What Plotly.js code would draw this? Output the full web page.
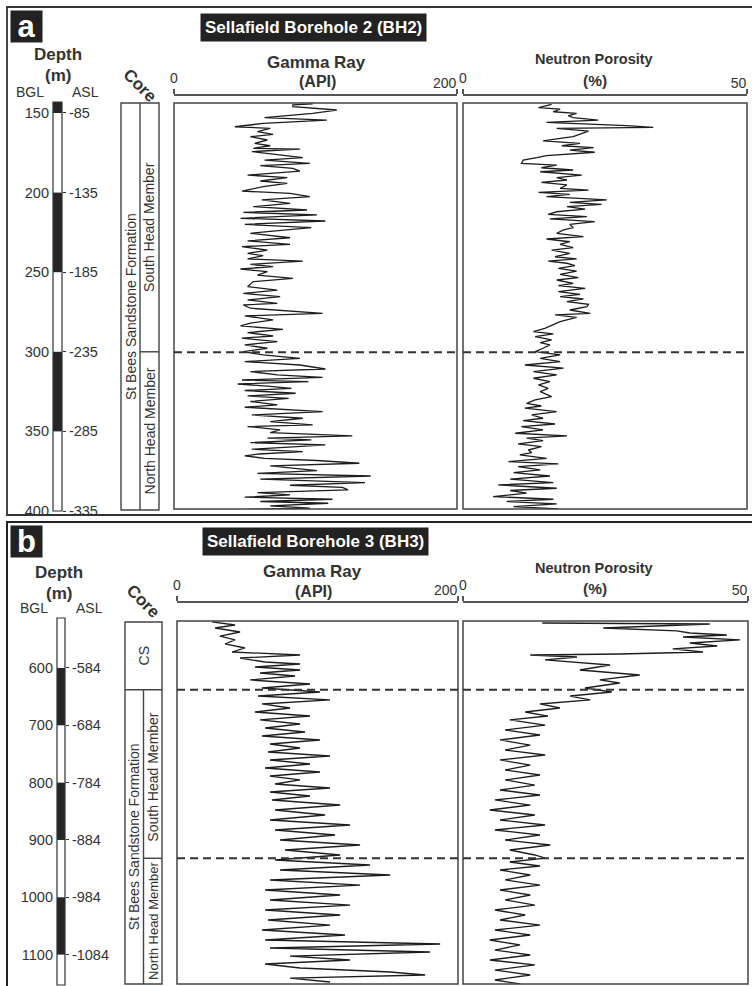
<!DOCTYPE html>
<html><head><meta charset="utf-8">
<script src="https://cdn.plot.ly/plotly-3.0.1.min.js"></script>
<style>html,body{margin:0;padding:0;background:#fff}</style>
</head><body><div id="chart" style="width:752px;height:986px"></div>
<script>
// ---------------- DATA ----------------
// Sellafield Borehole 2 (BH2)
const bh2GammaDepth = [144.2,144.8,146.0,148.1,150.2,152.9,154.4,156.5,158.6,159.6,161.7,163.4,164.8,166.9,169.0,170.5,172.1,172.6,174.2,176.3,178.0,179.5,181.5,183.0,184.7,186.4,188.9,190.5,192.6,194.1,196.2,198.9,200.4,202.4,204.5,206.6,208.7,210.8,212.3,213.9,216.0,217.7,219.8,221.9,224.0,225.4,228.2,230.2,232.3,233.8,235.9,238.0,239.4,241.5,242.8,244.9,246.3,247.8,249.5,251.6,253.7,255.7,258.9,261.0,263.1,265.1,267.2,269.3,
  270.3,272.4,275.6,277.2,279.7,281.8,283.5,285.6,287.7,289.8,291.2,293.3,295.4,297.5,299.6,301.7,303.8,305.9,308.0,310.5,312.1,314.2,315.7,317.4,318.4,319.9,321.5,322.6,324.0,325.7,327.4,328.9,330.9,333.0,334.5,337.2,339.3,341.4,343.5,345.6,346.6,348.7,350.4,352.5,353.9,355.0,356.7,358.1,359.2,360.8,362.3,363.8,365.0,366.5,367.9,369.6,371.3,372.7,374.2,375.9,377.6,379.6,381.7,383.4,384.7,386.3,388.0,389.5,390.9,392.2,393.6,394.7,396.4,397.8,398.5];
const bh2GammaAPI = [98,84,84,115,98,64,108,63,43,68,59,70,54,66,57,68,56,89,55,73,91,64,96,61,84,89,52,80,61,80,63,48,82,96,62,82,56,94,49,101,47,107,50,97,68,54,82,52,82,48,66,52,63,52,91,54,70,47,66,59,84,56,52,73,49,75,52,73,
  49,54,105,50,70,54,47,77,52,70,48,73,50,66,49,63,89,50,89,107,54,73,105,48,95,45,70,83,50,86,52,81,54,73,50,105,55,91,68,98,52,75,68,126,66,97,54,107,87,55,91,60,50,64,101,131,68,84,101,59,139,61,135,82,119,123,59,82,50,112,61,109,68,96,52];
const bh2NeutronDepth = [144.6,146.6,147.5,149.2,150.2,151.7,152.9,154.4,155.8,157.1,157.9,159.0,159.6,161.3,162.7,164.8,165.9,167.5,169.0,170.5,171.7,173.2,174.6,175.9,176.7,178.0,179.5,181.5,182.6,184.3,185.7,186.8,188.9,190.5,192.0,193.5,195.1,197.2,198.3,199.7,201.0,202.4,204.5,206.0,207.3,208.7,210.2,211.9,213.5,215.0,216.4,218.1,219.8,221.9,223.3,225.4,227.5,229.0,230.7,232.3,234.4,235.9,238.0,240.1,241.5,242.8,244.2,245.7,247.4,249.1,251.1,253.2,254.7,256.8,258.2,259.9,262.0,263.7,265.1,266.6,268.3,269.9,
  271.4,273.5,275.6,276.6,278.1,280.8,282.9,285.0,287.1,288.5,290.2,292.3,294.0,295.4,297.5,299.6,301.7,303.8,305.9,308.0,310.0,312.1,314.2,316.3,318.4,320.5,322.6,324.7,327.8,329.9,332.0,333.7,335.1,337.2,339.3,341.4,342.9,345.0,346.6,348.7,350.8,352.5,353.9,355.4,357.5,359.2,361.3,362.9,364.4,366.5,368.6,370.0,371.7,373.8,375.5,377.6,379.6,381.7,383.2,385.3,386.7,388.4,390.5,392.2,393.6,395.1,396.8,398.2];
const bh2NeutronPct = [15.6,13.3,17.1,15.9,20.0,18.5,19.4,23.8,14.7,25.9,28.8,33.5,16.5,22.1,20.9,19.4,17.1,14.1,20.6,17.4,23.0,18.8,23.2,18.8,14.7,13.0,10.6,10.3,16.5,13.8,19.4,13.6,20.9,16.5,18.3,13.8,18.3,17.1,22.1,13.3,18.8,14.7,25.3,18.8,24.4,18.3,21.5,16.5,15.0,21.8,15.3,23.2,18.8,19.4,17.7,16.5,21.2,14.7,18.8,17.1,19.4,15.6,18.8,16.2,20.0,15.0,18.3,19.7,16.8,20.0,17.1,20.3,16.5,19.4,16.8,21.5,16.8,20.6,17.1,21.2,18.3,22.1,
  21.8,18.8,22.4,16.2,20.0,17.1,15.9,14.4,12.4,15.9,12.7,15.6,13.6,15.3,14.1,12.7,17.1,13.6,17.1,10.9,17.7,12.4,16.5,12.4,15.3,13.3,15.0,13.6,15.6,12.7,11.2,13.8,10.9,16.5,12.1,14.1,10.6,16.2,10.3,14.1,9.2,18.3,11.2,14.1,9.7,13.8,11.5,12.1,10.0,14.7,8.0,16.8,9.7,13.6,8.9,15.3,8.3,15.9,6.2,16.5,8.3,11.2,5.3,15.9,7.7,16.5,8.9,16.8];
const bh2DepthTicks = [150,200,250,300,350,400];
const bh2AslLabels = ["-85","-135","-185","-235","-285","-335"];
const bh2BlackTop = [143,200,300];
const bh2BlackBottom = [150,250,350];
const bh2MemberBoundary = 300;

// Sellafield Borehole 3 (BH3)
const bh3GammaDepth = [519.7,525.0,530.2,537.2,544.2,551.1,558.1,565.1,572.1,577.3,582.6,589.5,593.0,598.3,603.5,608.7,614.0,620.9,627.9,634.9,641.9,648.9,655.8,662.8,669.8,676.8,683.8,690.7,697.7,704.7,711.7,718.7,725.6,732.6,739.6,746.6,753.6,760.5,767.5,774.5,781.5,788.5,795.4,802.4,809.4,816.4,823.4,830.3,839.1,847.8,856.5,865.2,874.0,882.7,891.4,900.1,908.9,917.6,926.3,935.0,943.8,952.5,961.2,969.9,978.7,987.4,996.1,1004.8,1013.6,1022.3,1031.0,1039.7,1048.5,1057.2,1065.9,1074.6,1081.6,1088.6,1095.6,1102.6,1109.5,1116.5,1123.5,1130.5,1135.7,1141.0,1147.9];
const bh3GammaAPI = [24.9,41.3,27.1,44.9,30.6,41.3,34.2,48.4,39.2,87.6,44.9,62.7,87.6,55.5,87.6,59.1,84.0,52.0,94.7,60.5,101.8,57.7,108.9,60.5,80.5,55.5,94.7,59.1,87.6,62.7,91.1,60.5,101.8,66.2,87.6,64.8,108.9,66.2,94.7,62.7,101.8,66.2,87.6,69.8,108.9,66.2,94.7,67.6,116.1,69.8,105.4,66.2,123.2,69.8,112.5,73.3,130.3,76.9,116.1,69.8,137.4,73.3,151.7,66.2,130.3,62.7,116.1,66.2,123.2,62.7,116.1,64.8,108.9,60.5,119.6,62.7,187.3,66.2,180.1,80.5,123.2,62.7,87.6,151.7,176.6,80.5,108.9];
const bh3NeutronDepth = [521.5,523.2,530.2,535.4,538.9,542.4,545.9,551.1,556.4,561.6,566.8,572.1,575.6,577.3,580.8,586.0,594.8,603.5,612.2,620.9,626.2,634.9,641.9,648.9,655.8,662.8,669.8,676.8,683.8,690.7,699.5,708.2,716.9,725.6,734.4,743.1,751.8,760.5,769.3,778.0,786.7,795.4,804.2,812.9,821.6,830.3,839.1,847.8,856.5,865.2,874.0,882.7,891.4,900.1,908.9,917.6,926.3,931.6,938.5,945.5,952.5,961.2,969.9,978.7,987.4,996.1,1004.8,1013.6,1022.3,1031.0,1039.7,1048.5,1057.2,1065.9,1074.6,1083.3,1092.1,1100.8,1109.5,1118.2,1127.0,1135.7,1144.4,1151.4];
const bh3NeutronPct = [13.9,43.3,24.6,37.5,39.8,46.3,38.6,48.6,39.8,44.6,36.8,42.1,27.5,11.8,20.0,14.4,25.8,20.5,31.0,24.0,27.5,21.4,26.1,18.8,22.3,13.5,17.0,10.9,14.9,8.2,14.4,7.4,13.5,6.5,11.8,7.4,14.4,6.5,11.8,7.4,13.5,7.4,12.6,6.5,13.5,5.6,11.8,4.7,12.6,6.5,14.4,5.6,13.5,7.4,15.3,8.2,12.6,14.4,8.2,13.5,6.5,11.8,7.4,13.5,6.5,11.8,7.4,12.6,5.6,10.9,6.5,13.5,5.6,11.8,4.7,10.0,5.6,11.8,4.7,12.6,5.6,11.8,5.6,10.0];
const bh3DepthTicks = [600,700,800,900,1000,1100];
const bh3AslLabels = ["-584","-684","-784","-884","-984","-1084"];
const bh3BlackTop = [600,800,1000];
const bh3BlackBottom = [700,900,1100];
const bh3CsBoundary = 638;
const bh3MemberBoundary = 932;

const gammaTicks = [0,200];
const neutronTicks = [0,50];

// ---------------- LAYOUT ----------------
const W = 752, H = 986;
const X = p => p / W;
const Y = p => 1 - p / H;
const xd = (a, b) => [a / W, b / W];
const yd = (t, b) => [1 - b / H, 1 - t / H];
const FONT = 'Liberation Sans, Arial, Helvetica, sans-serif';
const TXT = '#333';
const LINE = '#444';

const traces = [];
const layout = {
  width: W, height: H, margin: {l:0,r:0,t:0,b:0}, autosize: false,
  paper_bgcolor: '#fff', plot_bgcolor: 'rgba(0,0,0,0)', showlegend: false,
  hovermode: false, barmode: 'overlay', font: {family: FONT, color: TXT, size: 14},
  shapes: [], annotations: []
};
const hidden = {showgrid:false, zeroline:false, showline:false, showticklabels:false, ticks:'', fixedrange:true};
const xr = n => 'x' + (n===1?'':n);
const yr = n => 'y' + (n===1?'':n);
const xa = n => 'xaxis' + (n===1?'':n);
const ya = n => 'yaxis' + (n===1?'':n);

function panel(o) {
  const k = o.k, yk = o.yk;
  const yBar = yk, yAsl = yk+1, yCore = yk+2, yGr = yk+3, yNp = yk+4;

  // depth bar
  layout[xa(k)] = Object.assign({}, hidden, {domain: xd(...o.barX), range:[-0.5,0.5], anchor: yr(yBar)});
  layout[ya(yBar)] = Object.assign({}, hidden, {domain: yd(...o.barY), range: o.barRange, anchor: xr(k),
    showticklabels:true, tickvals:o.ticks, ticktext:o.ticks.map(String), tickfont:{size:14.5,color:TXT}, ticklabelstandoff:3});
  layout[ya(yAsl)] = Object.assign({}, hidden, {domain: yd(...o.barY), range: o.barRange, anchor: xr(k), overlaying: yr(yBar), side:'right',
    showticklabels:true, tickvals:o.ticks, ticktext:o.asl, ticks:'outside', ticklen:3, tickwidth:1, tickcolor:'#333', tickfont:{size:14.5,color:TXT}});
  traces.push({type:'bar', x:o.blackTop.map(()=>0), base:o.blackTop, y:o.blackTop.map((t,i)=>o.blackBottom[i]-t),
    width:1, marker:{color:'#262626', line:{width:0}}, xaxis:xr(k), yaxis:yr(yBar)});
  traces.push({type:'scatter', mode:'markers', x:o.ticks.map(()=>0), y:o.ticks, marker:{opacity:0}, xaxis:xr(k), yaxis:yr(yAsl)});
  layout.shapes.push({type:'rect', xref:xr(k)+' domain', yref:yr(yBar)+' domain', x0:0, x1:1, y0:0, y1:1, line:{color:'#333', width:1.2}});

  // core column
  const cx = xr(k+1), cy = yr(yCore);
  layout[xa(k+1)] = Object.assign({}, hidden, {domain: xd(...o.coreX), range:[0,2], anchor: cy});
  layout[ya(yCore)] = Object.assign({}, hidden, {domain: yd(...o.coreY), range: o.coreRange, anchor: cx});
  traces.push({type:'scatter', mode:'markers', x:[1], y:[o.coreRange[1]], marker:{opacity:0}, xaxis:cx, yaxis:cy});
  layout.shapes.push({type:'rect', xref:cx+' domain', yref:cy+' domain', x0:0, x1:1, y0:0, y1:1, line:{color:LINE, width:1.4}});
  o.coreShapes(cx, cy).forEach(s => layout.shapes.push(Object.assign({line:{color:LINE, width:1.4}}, s)));
  o.coreLabels.forEach(a => layout.annotations.push(Object.assign({showarrow:false, textangle:-90, xref:cx, yref:cy,
    xanchor:'center', yanchor:'middle', font:{size:14,color:TXT}}, a)));

  // log tracks
  const logs = [
    {xn:k+2, yn:yGr, dom:o.grX, range:[0,200], tickvals:gammaTicks, d:o.grDepth, v:o.grVal, ov:o.ovk},
    {xn:k+3, yn:yNp, dom:o.npX, range:[0,50], tickvals:neutronTicks, d:o.npDepth, v:o.npVal, ov:o.ovk+1}
  ];
  logs.forEach(L => {
    const axisStyle = {anchor:'free', position: Y(o.axisY), side:'top',
      ticks:'outside', ticklen:5, tickwidth:1.5, tickcolor:'#555', tickfont:{size:14,color:TXT},
      showgrid:false, zeroline:false, fixedrange:true};
    // scale line with the left-end label centred on its tick
    layout[xa(L.xn)] = Object.assign({domain: xd(...L.dom), range:L.range, showline:true, linecolor:'#555', linewidth:1.5,
      tickvals:L.tickvals, ticktext:[String(L.tickvals[0]), '']}, axisStyle);
    layout[ya(L.yn)] = Object.assign({}, hidden, {domain: yd(...o.logY), range:o.logRange, anchor: xr(L.xn)});
    traces.push({type:'scatter', mode:'lines', x:L.v, y:L.d, line:{color:'#1e1e1e', width:1.3}, xaxis:xr(L.xn), yaxis:yr(L.yn)});
    // right-end label drawn ending at its tick
    layout[xa(L.ov)] = Object.assign({overlaying: xr(L.xn), range:L.range, showline:false,
      tickvals:[L.tickvals[1]], ticktext:[String(L.tickvals[1])], ticklabelposition:'outside left'}, axisStyle);
    traces.push({type:'scatter', mode:'markers', x:[L.tickvals[1]], y:[o.logRange[1]], marker:{opacity:0}, xaxis:xr(L.ov), yaxis:yr(L.yn)});
    layout.shapes.push({type:'rect', xref:xr(L.xn)+' domain', yref:yr(L.yn)+' domain', x0:0, x1:1, y0:0, y1:1, line:{color:LINE, width:1.5}});
    o.bounds.forEach(b => layout.shapes.push({type:'line', xref:xr(L.xn)+' domain', yref:yr(L.yn), x0:0, x1:1, y0:b, y1:b,
      line:{color:'#333', width:2, dash:'8px,5px'}}));
  });

  // text
  const A = (text, x, y, f) => layout.annotations.push({text, x:X(x), y:Y(y), xref:'paper', yref:'paper', showarrow:false,
    xanchor:'center', yanchor:'middle', font:Object.assign({color:TXT, size:17}, f||{})});
  layout.annotations.push({text:'<b>'+o.letter+'</b>', x:X(26.5), y:Y(o.letterY), xref:'paper', yref:'paper', showarrow:false,
    xanchor:'center', yanchor:'middle', width:31, height:31, borderpad:0, bgcolor:'#222', font:{color:'#fff', size:31}});
  layout.annotations.push({text:'<b>'+o.title+'</b>', x:X(o.titleX), y:Y(o.titleY), xref:'paper', yref:'paper', showarrow:false,
    xanchor:'center', yanchor:'middle', borderpad:4, bgcolor:'#222', font:{color:'#fff', size:17}});
  A('<b>Depth</b>', o.depthX, o.depthY);
  A('<b>(m)</b>', o.depthX, o.depthY + 21);
  A('BGL', o.bglX, o.bglY, {size:14});
  A('ASL', o.bglX + 56, o.bglY, {size:14});
  layout.annotations.push({text:'<b>Core</b>', x:X(o.coreT[0]), y:Y(o.coreT[1]), xref:'paper', yref:'paper', showarrow:false,
    textangle:45, xanchor:'center', yanchor:'middle', font:{color:TXT, size:17}});
  A('<b>Gamma Ray</b>', o.grT[0], o.grT[1]);
  A('<b>(API)</b>', o.grT[0]+1, o.grT[1]+20, {size:16});
  A('<b>Neutron Porosity</b>', o.npT[0], o.npT[1], {size:14.5});
  A('<b>(%)</b>', o.npT[0]+1, o.npT[1]+21, {size:15.5});
}

// Panel a (BH2)
panel({k:1, yk:1, ovk:9, letter:'a', letterY:26.5, title:'Sellafield Borehole 2 (BH2)', titleX:313, titleY:27,
  barX:[53,62], barY:[102,511], barRange:[400,143.1], ticks:bh2DepthTicks, asl:bh2AslLabels, blackTop:bh2BlackTop, blackBottom:bh2BlackBottom,
  coreX:[121,159], coreY:[103,510], coreRange:[399.4,143.7],
  coreShapes:(cx,cy)=>[
    {type:'line', xref:cx, yref:cy+' domain', x0:1, x1:1, y0:0, y1:1},
    {type:'line', xref:cx, yref:cy, x0:1, x1:2, y0:bh2MemberBoundary, y1:bh2MemberBoundary}],
  coreLabels:[
    {text:'St Bees Sandstone Formation', x:0.5, y:(143.7+399.4)/2},
    {text:'South Head Member', x:1.5, y:(143.7+bh2MemberBoundary)/2},
    {text:'North Head Member', x:1.5, y:(bh2MemberBoundary+399.4)/2}],
  grX:[174,457], npX:[463,747], logY:[103,509], logRange:[398.3,143.7], axisY:94,
  grDepth:bh2GammaDepth, grVal:bh2GammaAPI, npDepth:bh2NeutronDepth, npVal:bh2NeutronPct, bounds:[bh2MemberBoundary],
  depthX:57.5, depthY:54.5, bglX:29.5, bglY:92.5, coreT:[140,85], grT:[316,62], npT:[594,59]
});

// Panel b (BH3)
panel({k:5, yk:6, ovk:11, letter:'b', letterY:541, title:'Sellafield Borehole 3 (BH3)', titleX:315, titleY:541.5,
  barX:[57,65], barY:[618,985], barRange:[1153,512.8], ticks:bh3DepthTicks, asl:bh3AslLabels, blackTop:bh3BlackTop, blackBottom:bh3BlackBottom,
  coreX:[125,162], coreY:[622,984], coreRange:[1151.4,519.7],
  coreShapes:(cx,cy)=>[
    {type:'line', xref:cx, yref:cy, x0:1, x1:1, y0:bh3CsBoundary, y1:1151.4},
    {type:'line', xref:cx, yref:cy, x0:0, x1:2, y0:bh3CsBoundary, y1:bh3CsBoundary},
    {type:'line', xref:cx, yref:cy, x0:1, x1:2, y0:bh3MemberBoundary, y1:bh3MemberBoundary}],
  coreLabels:[
    {text:'CS', x:1, y:(519.7+bh3CsBoundary)/2},
    {text:'St Bees Sandstone Formation', x:0.5, y:(bh3CsBoundary+1151.4)/2},
    {text:'South Head Member', x:1.5, y:(bh3CsBoundary+bh3MemberBoundary)/2+5},
    {text:'North Head Member', x:1.5, y:(bh3MemberBoundary+1151.4)/2, font:{size:13,color:TXT}}],
  grX:[177,458], npX:[463,748], logY:[621,984], logRange:[1151.4,518.0], axisY:601,
  grDepth:bh3GammaDepth, grVal:bh3GammaAPI, npDepth:bh3NeutronDepth, npVal:bh3NeutronPct, bounds:[bh3CsBoundary, bh3MemberBoundary],
  depthX:59, depthY:572.5, bglX:33.5, bglY:608, coreT:[143.5,601], grT:[312.5,571.5], npT:[593.5,567.5]
});

// panel frames
layout.shapes.push({type:'rect', xref:'paper', yref:'paper', x0:X(7), x1:1.02, y0:Y(515), y1:Y(7), line:{color:'#333', width:1.8}});
layout.shapes.push({type:'rect', xref:'paper', yref:'paper', x0:X(7), x1:1.02, y0:-0.02, y1:Y(522), line:{color:'#222', width:2}});

Plotly.newPlot('chart', traces, layout, {staticPlot:true, displayModeBar:false});
</script></body></html>
